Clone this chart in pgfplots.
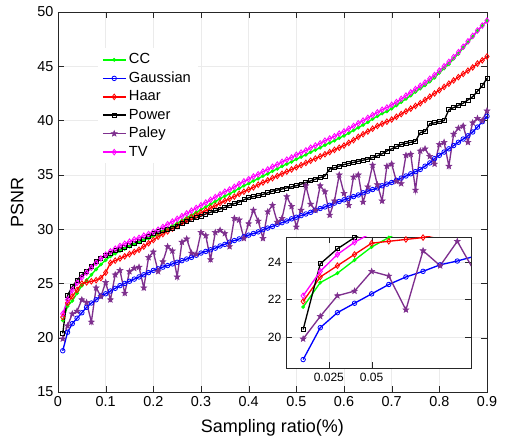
\documentclass[border=0pt]{standalone}
\usepackage{fontspec}
\setmainfont{Liberation Sans}
\usepackage{pgfplots}
\usepackage{pgfplotstable}
\pgfplotsset{compat=1.18}

\definecolor{ccg}{RGB}{0,255,0}
\definecolor{pal}{RGB}{126,47,142}
\definecolor{tvm}{RGB}{255,0,255}
\definecolor{gridc}{RGB}{235,235,235}
\definecolor{axc}{RGB}{38,38,38}

% filled five-point star mark
\pgfdeclareplotmark{pstar}{%
  \pgfpathmoveto{\pgfpointpolar{90}{\pgfplotmarksize}}%
  \pgfpathlineto{\pgfpointpolar{126}{0.42\pgfplotmarksize}}%
  \pgfpathlineto{\pgfpointpolar{162}{\pgfplotmarksize}}%
  \pgfpathlineto{\pgfpointpolar{198}{0.42\pgfplotmarksize}}%
  \pgfpathlineto{\pgfpointpolar{234}{\pgfplotmarksize}}%
  \pgfpathlineto{\pgfpointpolar{270}{0.42\pgfplotmarksize}}%
  \pgfpathlineto{\pgfpointpolar{306}{\pgfplotmarksize}}%
  \pgfpathlineto{\pgfpointpolar{342}{0.42\pgfplotmarksize}}%
  \pgfpathlineto{\pgfpointpolar{18}{\pgfplotmarksize}}%
  \pgfpathlineto{\pgfpointpolar{54}{0.42\pgfplotmarksize}}%
  \pgfpathclose
  \pgfusepathqfillstroke
}

% x  CC  Gaussian  Haar  Power  Paley  TV
\pgfplotstableread{
x    cc    gau   haar  pow   pal   tv
0.01 21.6  18.8  21.9  20.4  19.9  22.2
0.02 22.9  20.5  23.2  23.9  21.1  23.5
0.03 23.4  21.3  23.8  24.7  22.2  24.4
0.04 24.1  21.8  24.4  25.3  22.45 25.05
0.05 24.8  22.3  25.0  25.8  23.5  25.55
0.06 25.3  22.8  25.1  26.1  23.25 26.0
0.07 25.8  23.2  25.2  26.6  21.45 26.45
0.08 26.3  23.5  25.3  27.0  24.6  26.9
0.09 26.75 23.85 25.5  27.3  23.8  27.3
0.10 27.15 24.05 26.0  27.6  25.1  27.65
0.11 27.5  24.3  26.9  27.8  23.5  27.95
0.12 27.75 24.55 27.1  28.0  25.8  28.2
0.13 28.0  24.8  27.3  28.15 26.2  28.45
0.14 28.2  25.0  27.5  28.3  24.1  28.65
0.15 28.4  25.2  27.7  28.5  26.1  28.85
0.16 28.6  25.4  27.9  28.7  26.4  29.05
0.17 28.8  25.6  28.1  28.9  26.5  29.2
0.18 29.0  25.8  28.4  29.1  24.6  29.4
0.19 29.15 26.0  28.7  29.3  27.4  29.55
0.20 29.35 26.2  29.0  29.6  27.9  29.75
0.21 29.55 26.35 29.3  29.75 26.1  29.95
0.22 29.8  26.5  29.55 29.85 27.0  30.2
0.23 30.05 26.65 29.8  29.95 28.4  30.45
0.24 30.3  26.8  30.05 30.1  28.0  30.7
0.25 30.55 26.95 30.3  30.3  25.6  30.95
0.26 30.8  27.1  30.6  30.5  28.8  31.2
0.27 31.05 27.25 30.85 30.7  29.1  31.45
0.28 31.3  27.4  31.1  30.9  27.8  31.7
0.29 31.55 27.6  31.3  31.05 27.7  31.95
0.30 31.8  27.8  31.5  31.2  29.7  32.2
0.31 32.05 27.95 31.7  31.4  29.4  32.45
0.32 32.3  28.1  31.95 31.55 27.2  32.7
0.33 32.55 28.25 32.15 31.7  29.7  32.95
0.34 32.8  28.45 32.4  31.85 29.9  33.2
0.35 33.05 28.6  32.6  32.0  29.6  33.45
0.36 33.25 28.8  32.8  32.2  28.4  33.65
0.37 33.5  28.95 33.0  32.35 31.0  33.9
0.38 33.75 29.1  33.25 32.5  30.85 34.15
0.39 34.0  29.3  33.45 32.7  29.15 34.4
0.40 34.2  29.45 33.65 32.9  30.5  34.6
0.41 34.45 29.6  33.85 33.0  31.75 34.85
0.42 34.65 29.75 34.1  33.1  30.75 35.05
0.43 34.9  29.95 34.3  33.2  29.15 35.3
0.44 35.1  30.1  34.5  33.35 31.6  35.5
0.45 35.35 30.25 34.7  33.5  32.2  35.75
0.46 35.55 30.45 34.9  33.6  30.65 35.95
0.47 35.8  30.6  35.1  33.7  31.0  36.2
0.48 36.0  30.75 35.3  33.8  33.0  36.4
0.49 36.2  30.95 35.5  33.9  32.1  36.6
0.50 36.45 31.1  35.7  34.0  30.2  36.85
0.51 36.65 31.25 35.9  34.15 31.75 37.05
0.52 36.85 31.4  36.1  34.3  34.0  37.25
0.53 37.1  31.55 36.3  34.45 32.3  37.5
0.54 37.3  31.75 36.5  34.6  31.75 37.7
0.55 37.5  31.9  36.7  34.75 34.0  37.9
0.56 37.75 32.05 36.9  34.9  33.45 38.15
0.57 37.95 32.2  37.1  35.55 31.3  38.35
0.58 38.15 32.4  37.3  35.65 32.6  38.55
0.59 38.4  32.55 37.5  35.8  35.0  38.8
0.60 38.6  32.7  37.7  35.95 33.3  39.0
0.61 38.85 32.85 37.95 36.05 32.2  39.25
0.62 39.1  33.0  38.2  36.15 34.8  39.5
0.63 39.35 33.15 38.5  36.25 35.0  39.75
0.64 39.6  33.35 38.75 36.35 32.5  40.0
0.65 39.85 33.5  39.0  36.45 33.9  40.25
0.66 40.15 33.65 39.25 36.6  35.9  40.5
0.67 40.4  33.8  39.5  36.75 34.1  40.75
0.68 40.65 34.0  39.7  36.95 32.6  41.0
0.69 40.85 34.15 39.9  37.2  35.8  41.2
0.70 41.1  34.3  40.1  37.4  36.0  41.45
0.71 41.4  34.5  40.35 37.6  34.4  41.7
0.72 41.7  34.7  40.6  37.8  34.2  42.0
0.73 42.0  34.9  40.85 37.9  36.8  42.3
0.74 42.3  35.1  41.1  38.0  36.9  42.6
0.75 42.65 35.3  41.35 38.1  33.6  42.9
0.76 42.95 35.5  41.6  38.9  37.2  43.2
0.77 43.25 35.8  41.9  39.0  37.4  43.5
0.78 43.6  36.1  42.2  39.7  36.7  43.85
0.79 43.95 36.5  42.5  39.8  36.0  44.2
0.80 44.4  36.8  42.8  39.9  37.8  44.6
0.81 44.8  37.1  43.1  40.0  38.0  45.0
0.82 45.2  37.4  43.4  41.0  35.8  45.4
0.83 45.7  37.7  43.7  41.2  38.75 45.85
0.84 46.15 38.0  44.0  41.4  39.3  46.3
0.85 46.7  38.3  44.3  41.6  39.5  46.8
0.86 47.2  38.6  44.6  41.9  38.0  47.3
0.87 47.72 38.95 44.9  42.2  39.8  47.8
0.88 48.25 39.4  45.25 42.7  40.2  48.3
0.89 48.72 39.9  45.55 43.2  40.0  48.75
0.90 49.2  40.4  45.9  43.9  40.9  49.2
}\psnr

\pgfplotsset{
  psnrstyle/.style={
    axis line style={axc},
    tick style={axc},
    grid=major,
    major grid style={gridc, line width=0.5pt},
    axis background/.style={fill=white},
    /pgf/number format/assume math mode=true,
    every axis plot/.append style={line width=1pt},
  },
  ccp/.style={color=ccg, mark=*, mark size=1.2pt, mark options={fill=ccg, line width=0.5pt}},
  gap/.style={color=blue, mark=o, mark size=1.7pt, mark options={line width=0.6pt}},
  hap/.style={color=red, mark=diamond, mark size=2.1pt, mark options={line width=0.6pt}},
  pop/.style={color=black, mark=square, mark size=1.5pt, mark options={line width=0.6pt}},
  pap/.style={color=pal, mark=pstar, mark size=2.3pt, mark options={fill=pal, line width=0.4pt}},
  tvp/.style={color=tvm, mark=diamond, mark size=2.1pt, mark options={line width=0.6pt}},
}

\begin{document}
\begin{tikzpicture}
\begin{axis}[
  psnrstyle,
  scale only axis,
  width=321.75pt, height=285pt,
  xmin=0, xmax=0.9, ymin=15, ymax=50,
  xtick={0,0.1,0.2,0.3,0.4,0.5,0.6,0.7,0.8,0.9},
  xticklabels={0,0.1,0.2,0.3,0.4,0.5,0.6,0.7,0.8,0.9},
  ytick={15,20,25,30,35,40,45,50},
  ticklabel style={font=\fontsize{10.8}{12}\selectfont},
  xlabel={Sampling ratio(\%)},
  ylabel={PSNR},
  label style={font=\fontsize{13.5}{15}\selectfont},
  xlabel style={at={(rel axis cs:0.5,-0.095)}, anchor=center},
  ylabel style={at={(rel axis cs:-0.095,0.5)}, anchor=center},
  legend style={at={(rel axis cs:0.093,0.905)}, anchor=north west,
    draw=none, fill=white, font=\fontsize{11}{13}\selectfont,
    row sep=0.6pt},
  legend cell align=left,
]
\addplot[ccp] table[x=x, y=cc] {\psnr};
\addplot[gap] table[x=x, y=gau] {\psnr};
\addplot[hap] table[x=x, y=haar] {\psnr};
\addplot[pop] table[x=x, y=pow] {\psnr};
\addplot[pap] table[x=x, y=pal] {\psnr};
\addplot[tvp] table[x=x, y=tv] {\psnr};
\legend{CC,Gaussian,Haar,Power,Paley,TV}
\coordinate (inset) at (rel axis cs:0.5315,0.0632);
\coordinate (bbsw) at (rel axis cs:-0.1352,-0.1395);
\coordinate (bbne) at (rel axis cs:1.0443,1.0316);
\end{axis}
\path (bbsw) rectangle (bbne);
\begin{axis}[
  psnrstyle,
  at={(inset)}, anchor=south west,
  scale only axis,
  width=138.75pt, height=98.25pt,
  xmin=0, xmax=0.108, ymin=18.35, ymax=25.33,
  xtick={0.025,0.05}, xticklabels={0.025,0.05},
  ytick={20,22,24},
  ticklabel style={font=\fontsize{9}{10}\selectfont},
]
\addplot[ccp, restrict x to domain=0:0.12] table[x=x, y=cc] {\psnr};
\addplot[gap, restrict x to domain=0:0.12] table[x=x, y=gau] {\psnr};
\addplot[hap, restrict x to domain=0:0.12] table[x=x, y=haar] {\psnr};
\addplot[pop, restrict x to domain=0:0.12] table[x=x, y=pow] {\psnr};
\addplot[pap, restrict x to domain=0:0.12] table[x=x, y=pal] {\psnr};
\addplot[tvp, restrict x to domain=0:0.12] table[x=x, y=tv] {\psnr};
\end{axis}
\end{tikzpicture}
\end{document}
